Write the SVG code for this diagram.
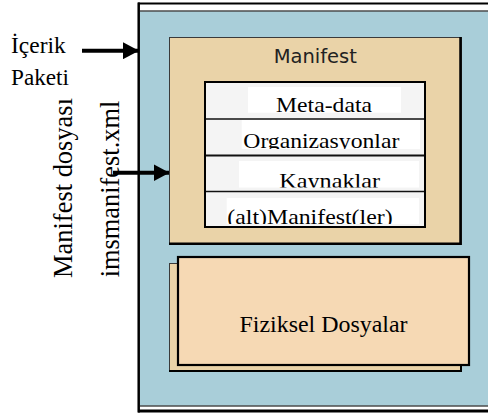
<svg xmlns="http://www.w3.org/2000/svg" width="488" height="414" viewBox="0 0 488 414">
  <style>
    .serif { font-family: "Liberation Serif", "Times New Roman", serif; fill: #000; }
    .sans { font-family: "DejaVu Sans", Verdana, sans-serif; fill: #222; }
    .row { fill: #f4f4f4; }
    .label-bg { fill: #ffffff; }
    .sep { stroke: #111; }
    .arrow { stroke: #000; stroke-width: 4; fill: none; }
  </style>
  <defs>
    <marker id="head" markerUnits="userSpaceOnUse" markerWidth="16" markerHeight="17" refX="15.5" refY="8.5" orient="auto">
      <polygon points="0,0 16,8.5 0,17" fill="#000"/>
    </marker>
    <clipPath id="clip-meta"><rect x="248" y="87" width="153" height="25.7"/></clipPath>
    <clipPath id="clip-org"><rect x="241.7" y="120" width="178.3" height="29"/></clipPath>
    <clipPath id="clip-kay"><rect x="239" y="161" width="180" height="26.5"/></clipPath>
    <clipPath id="clip-alt"><rect x="226.7" y="198" width="192.3" height="26"/></clipPath>
  </defs>

  <rect width="488" height="414" fill="#ffffff"/>

  <!-- content package frame -->
  <g id="icerik-paketi">
    <rect x="140" y="11" width="348" height="395" fill="#a9ced9"/>
    <line x1="140" y1="11" x2="488" y2="11" stroke="#4d4d4d" stroke-width="1.5"/>
    <line x1="140" y1="406" x2="488" y2="406" stroke="#4d4d4d" stroke-width="1.5"/>
    <line x1="138" y1="3.5" x2="488" y2="3.5" stroke="#000" stroke-width="2"/>
    <line x1="138" y1="411" x2="488" y2="411" stroke="#000" stroke-width="3"/>
    <line x1="138.7" y1="2.5" x2="138.7" y2="412.5" stroke="#000" stroke-width="2.5"/>
  </g>

  <!-- manifest box -->
  <g id="manifest">
    <rect x="169.5" y="37.5" width="292" height="207" fill="#ead3a8" stroke="#3a3a3a" stroke-width="1"/>
    <polyline points="460.5,37 460.5,243.8 169,243.8" fill="none" stroke="#000" stroke-width="2.5"/>
    <text class="sans" x="315.3" y="63.3" font-size="19.5" text-anchor="middle">Manifest</text>
  </g>

  <!-- manifest sections -->
  <g id="manifest-bolumleri">
    <rect class="row" x="205" y="82" width="220" height="145"/>
    <rect class="label-bg" x="248" y="87" width="153" height="25.7"/>
    <rect class="label-bg" x="241.7" y="120" width="178.3" height="29"/>
    <rect class="label-bg" x="239" y="161" width="180" height="26.5"/>
    <rect class="label-bg" x="226.7" y="198" width="192.3" height="26"/>
    <line class="sep" x1="205" y1="119" x2="425" y2="119" stroke-width="1.5"/>
    <line class="sep" x1="205" y1="155.5" x2="425" y2="155.5" stroke-width="2.2"/>
    <line class="sep" x1="205" y1="191.5" x2="425" y2="191.5" stroke-width="1.5"/>
    <rect x="205" y="82" width="220" height="145" fill="none" stroke="#000" stroke-width="2"/>
    <g id="meta-data" clip-path="url(#clip-meta)">
      <text class="serif" x="276" y="112" font-size="21" textLength="96" lengthAdjust="spacingAndGlyphs">Meta-data</text>
    </g>
    <g id="organizasyonlar" clip-path="url(#clip-org)">
      <text class="serif" x="243.3" y="148" font-size="21" textLength="156" lengthAdjust="spacingAndGlyphs">Organizasyonlar</text>
    </g>
    <g id="kaynaklar" clip-path="url(#clip-kay)">
      <text class="serif" x="279.3" y="187.5" font-size="21" textLength="100.7" lengthAdjust="spacingAndGlyphs">Kaynaklar</text>
    </g>
    <g id="alt-manifestler" clip-path="url(#clip-alt)">
      <text class="serif" x="227.3" y="223.5" font-size="21" textLength="165.3" lengthAdjust="spacingAndGlyphs">(alt)Manifest(ler)</text>
    </g>
  </g>

  <!-- physical files (stacked sheets) -->
  <g id="fiziksel-dosyalar">
    <rect x="169.5" y="263.5" width="292" height="108" fill="#ead3a8" stroke="#3a3a3a" stroke-width="1"/>
    <polyline points="461,263 461,371 169,371" fill="none" stroke="#000" stroke-width="2"/>
    <rect x="178" y="257" width="291" height="108" fill="#f6d9b4" stroke="#000" stroke-width="2.2"/>
    <text class="serif" x="239.5" y="331.7" font-size="24" textLength="168" lengthAdjust="spacingAndGlyphs">Fiziksel Dosyalar</text>
  </g>

  <!-- side labels -->
  <g id="etiket-icerik-paketi">
    <text class="serif" x="11" y="53.3" font-size="23.5" textLength="54.7" lengthAdjust="spacingAndGlyphs">İçerik</text>
    <text class="serif" x="11" y="85" font-size="23.5" textLength="58" lengthAdjust="spacingAndGlyphs">Paketi</text>
  </g>
  <g id="etiket-manifest-dosyasi">
    <text class="serif" transform="translate(71.7,278) rotate(-90)" font-size="26.5" textLength="180" lengthAdjust="spacingAndGlyphs">Manifest dosyası</text>
    <text class="serif" transform="translate(119.3,277.3) rotate(-90)" font-size="26.5" textLength="176.6" lengthAdjust="spacingAndGlyphs">imsmanifest.xml</text>
  </g>

  <!-- connectors -->
  <g id="connectors">
    <line class="arrow" x1="82" y1="50.7" x2="138.5" y2="50.7" marker-end="url(#head)"/>
    <line class="arrow" x1="113" y1="172.7" x2="169" y2="172.7" marker-end="url(#head)"/>
  </g>
</svg>
